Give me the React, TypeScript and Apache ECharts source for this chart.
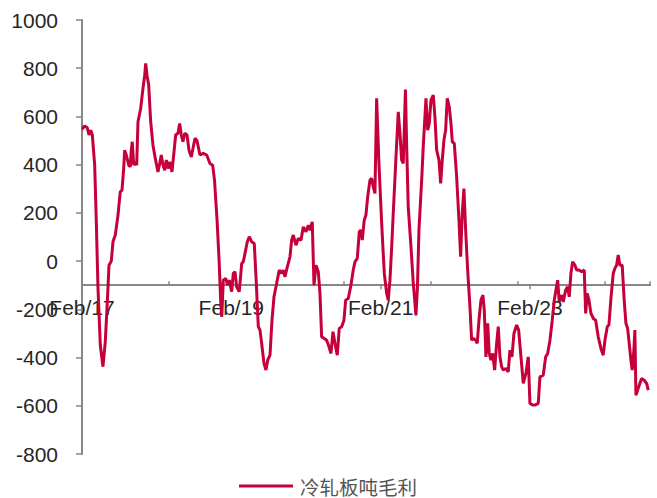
import React, { useEffect, useRef } from "react";
import * as echarts from "echarts";

const seriesName = "冷轧板吨毛利";
const xTickLabels = ["Feb/17", "Feb/19", "Feb/21", "Feb/23"];
const yMin = -800;
const yMax = 1000;
const yStep = 200;
const xCrossValue = -100; // the horizontal axis crosses the value axis here

// months elapsed since Feb 2017
const months = [
  0, 0.43, 0.85, 1.13, 1.4, 1.66, 2.04, 2.3, 2.57, 2.94, 3.37, 3.74, 4.07, 4.34, 4.71, 4.98, 5.35, 5.79, 6.15, 6.43,
  6.7, 6.86, 7.12, 7.51, 7.76, 7.92, 8.08, 8.31, 8.57, 8.79, 9.0, 9.43, 9.8, 10.08, 10.24, 10.45, 10.72, 11.04, 11.41, 11.78,
  12.21, 12.49, 12.74, 13.02, 13.29, 13.55, 13.82, 14.09, 14.46, 14.79, 15.06, 15.43, 15.7, 15.96, 16.23, 16.51, 16.88, 17.2, 17.57, 17.84,
  18.16, 18.48, 18.96, 19.5, 20.04, 20.57, 21.0, 21.3, 21.71, 22.04, 22.31, 22.47, 22.71, 23.1, 23.42, 23.67, 24.06, 24.32, 24.59, 24.86,
  25.28, 25.67, 25.92, 26.2, 26.57, 26.89, 27.27, 27.69, 27.97, 28.34, 28.61, 28.88, 29.25, 29.57, 29.85, 30.22, 30.54, 30.86, 31.29, 31.71,
  32.1, 32.35, 32.63, 33.0, 33.43, 33.7, 33.96, 34.39, 34.76, 35.2, 35.57, 36.0, 36.37, 36.64, 37.01, 37.29, 37.61, 37.98, 38.25, 38.52,
  38.94, 39.33, 39.7, 40.02, 40.34, 40.66, 41.03, 41.35, 41.74, 42.11, 42.38, 42.8, 43.23, 43.6, 43.88, 44.25, 44.57, 44.84, 45.05, 45.37,
  45.64, 45.92, 46.29, 46.56, 46.82, 47.09, 47.36, 47.73, 48.17, 48.59, 48.97, 49.23, 49.5, 49.78, 50.03, 50.42, 50.84, 51.11, 51.38, 51.64,
  51.99, 52.19, 52.44, 52.88, 53.25, 53.68, 53.92, 54.16, 54.6, 54.85, 55.29, 55.56, 55.82, 56.09, 56.46, 56.73, 57.01, 57.38, 57.65, 57.91,
  58.18, 58.45, 58.71, 59.03, 59.31, 59.52, 59.84, 60.22, 60.59, 60.86, 61.12, 61.39, 61.67, 61.99, 62.36, 62.63, 62.89, 63.28, 63.53, 63.81,
  64.13, 64.45, 64.66, 64.93, 65.21, 65.46, 65.73, 66.01, 66.33, 66.65, 66.91, 67.18, 67.45, 67.71, 68.14, 68.51, 68.79, 69.11, 69.43, 69.86,
  70.19, 70.51, 70.93, 71.36, 71.73, 72.0, 72.44, 72.81, 73.34, 73.61, 74.14, 74.53, 74.85, 75.22, 75.59, 75.91, 76.18, 76.46, 76.71, 77.1,
  77.36, 77.74, 78.06, 78.32, 78.59, 78.86, 79.23, 79.5, 79.88, 80.31, 80.73, 80.96, 81.21, 81.49, 81.81, 82.18, 82.56, 82.98, 83.41, 83.78,
  84.06, 84.43, 84.7, 85.02, 85.39, 85.66, 85.93, 86.19, 86.46, 86.83, 87.15, 87.43, 87.7, 87.96, 88.23, 88.44, 88.71, 88.87, 89.04, 89.31,
  89.68, 89.95, 90.37, 90.76, 91.02,
];

// gross margin per tonne (yuan)
const margins = [
  547, 561, 553, 523, 543, 523, 398, 163, -112, -348, -438, -335, -169, -17, 0, 80, 108, 191, 287, 294,
  384, 460, 440, 398, 391, 460, 495, 398, 412, 398, 578, 633, 716, 771, 820, 771, 730, 578, 481, 426,
  370, 405, 440, 398, 377, 419, 384, 412, 370, 453, 523, 530, 571, 523, 495, 530, 523, 460, 432, 467,
  509, 500, 440, 447, 440, 405, 398, 336, 170, 0, -175, -231, -79, -72, -100, -79, -127, -51, -44, -107,
  -127, -10, -3, 32, 80, 101, 80, 73, -65, -272, -286, -341, -424, -452, -411, -390, -245, -148, -92, -37,
  -51, -37, -65, -24, 18, 87, 108, 66, 94, 87, 142, 122, 149, 128, 163, -100, -17, -44, -134, -314,
  -321, -328, -355, -383, -293, -341, -390, -279, -272, -245, -162, -155, -100, -37, -3, 11, 122, 128, 87, 170,
  191, 267, 336, 343, 308, 281, 675, 405, 156, -51, -134, -162, -79, 59, 198, 405, 619, 530, 419, 405,
  712, 474, 225, 59, -92, -225, -107, 128, 336, 474, 675, 543, 571, 668, 688, 598, 460, 419, 322, 419,
  502, 543, 675, 640, 571, 495, 488, 350, 170, 18, 198, 301, 128, -37, -190, -328, -321, -328, -341, -245,
  -162, -141, -203, -397, -258, -383, -411, -383, -452, -341, -272, -397, -438, -452, -445, -459, -369, -397, -300, -265,
  -286, -383, -507, -466, -397, -590, -597, -597, -590, -480, -473, -397, -383, -328, -245, -162, -120, -79, -169, -141,
  -169, -120, -107, -148, -51, -3, -17, -37, -37, -44, -37, -217, -134, -162, -217, -238, -245, -314, -362, -390,
  -328, -272, -265, -155, -51, -30, -17, 25, -17, -17, -162, -258, -279, -341, -411, -452, -369, -286, -556, -535,
  -507, -487, -494, -507, -535,
];

const LINE_COLOR = "#C6003A";
const AXIS_COLOR = "#878787";
const TEXT_COLOR = "#262626";
const FONT = "'Liberation Sans', Arial, sans-serif";

const W = 657;
const H = 498;
const GRID = { left: 82, right: 7, top: 20, bottom: 44 };

export default function App() {
  const ref = useRef<HTMLDivElement>(null);

  useEffect(() => {
    if (!ref.current) return;
    const chart = echarts.init(ref.current, undefined, { renderer: "svg" });
    const data = months.map((m, i) => [m, margins[i]]);

    const plotH = H - GRID.top - GRID.bottom;
    const crossPx = GRID.top + ((yMax - xCrossValue) / (yMax - yMin)) * plotH;
    const bottomOffset = -(H - GRID.bottom - crossPx);
    const topOffset = -(crossPx - GRID.top);

    chart.setOption({
      animation: false,
      backgroundColor: "#ffffff",
      grid: { ...GRID, containLabel: false },
      legend: {
        data: [seriesName],
        left: 239,
        top: 476,
        padding: 0,
        icon: "rect",
        itemWidth: 54,
        itemHeight: 3,
        itemGap: 10,
        textStyle: {
          fontFamily: "'Noto Sans CJK SC', sans-serif",
          fontSize: 19.5,
          lineHeight: 20,
          color: "#555555",
          padding: [0, 0, 0, 2],
        },
      },
      xAxis: [
        {
          type: "value",
          position: "bottom",
          offset: bottomOffset,
          min: 0,
          max: 91.3,
          interval: 24,
          axisLine: { onZero: false, lineStyle: { color: AXIS_COLOR, width: 2 } },
          axisTick: { show: true, length: 4, lineStyle: { color: AXIS_COLOR, width: 1.5 } },
          axisLabel: {
            showMaxLabel: false,
            margin: 12,
            fontFamily: FONT,
            fontSize: 21,
            color: TEXT_COLOR,
            formatter: (v: number) => xTickLabels[Math.round(v / 24)] ?? "",
          },
          splitLine: { show: false },
        },
        {
          type: "value",
          position: "top",
          offset: topOffset,
          min: 0,
          max: 91.3,
          interval: 14,
          axisLine: { onZero: false, lineStyle: { color: AXIS_COLOR, width: 2 } },
          axisTick: { show: true, length: 4, lineStyle: { color: AXIS_COLOR, width: 1.5 } },
          axisLabel: { show: false },
          splitLine: { show: false },
        },
      ],
      yAxis: [
        {
          type: "value",
          min: yMin,
          max: yMax,
          interval: yStep,
          axisLine: { show: true, onZero: false, lineStyle: { color: AXIS_COLOR, width: 2 } },
          axisTick: { show: true, length: 6, lineStyle: { color: AXIS_COLOR, width: 1.5 } },
          axisLabel: {
            margin: 24,
            fontFamily: FONT,
            fontSize: 21,
            color: TEXT_COLOR,
            formatter: (v: number) => String(v),
          },
          splitLine: { show: false },
        },
      ],
      series: [
        {
          name: seriesName,
          type: "line",
          xAxisIndex: 0,
          yAxisIndex: 0,
          data,
          showSymbol: false,
          symbol: "none",
          lineStyle: { color: LINE_COLOR, width: 3 },
          itemStyle: { color: LINE_COLOR },
        },
      ],
    });
    return () => chart.dispose();
  }, []);

  return <div ref={ref} style={{ width: W, height: H, position: "absolute", left: 0, top: 0 }} />;
}
